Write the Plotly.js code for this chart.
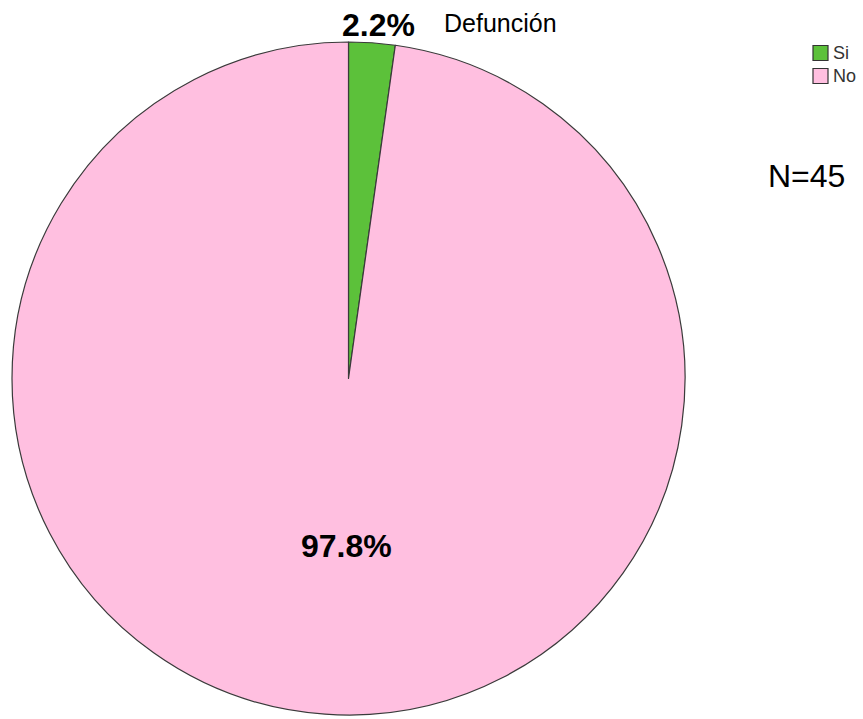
<!DOCTYPE html>
<html><head><meta charset="utf-8">
<script src="https://cdn.plot.ly/plotly-3.0.1.min.js"></script>
<style>html,body{margin:0;padding:0;background:#fff}#c{width:863px;height:719px}</style>
</head><body><div id="c"></div>
<script>
const categories = ["Si", "No"];
const counts = [1, 44];
const colors = ["#5cc13a", "#ffbfe0"];
const legendTitle = "Defunción";
const nLabel = "N=45";

const total = counts.reduce((a,b)=>a+b,0);
const pct = counts.map(v => (100*v/total).toFixed(1) + "%");

const W = 863, H = 719;
const trace = {
  type: "pie",
  labels: categories,
  values: counts,
  sort: false,
  direction: "clockwise",
  rotation: 0,
  marker: {colors: colors, line: {color: "#3a3a3a", width: 1.2}},
  textinfo: "none",
  hoverinfo: "label+percent",
  showlegend: false,
  domain: {x: [12/W, 685/W], y: [1-715/H, 1-42/H]}
};

function ann(text, px, py, size, extra) {
  return Object.assign({text: text, x: px/W, y: 1-py/H, xref: "paper", yref: "paper",
    xanchor: "center", yanchor: "middle", showarrow: false,
    font: {size: size, color: "#000"}}, extra || {});
}
const annotations = [
  ann("<b>" + pct[0] + "</b>", 378, 25, 32),
  ann("<b>" + pct[1] + "</b>", 346, 546, 32),
  ann(legendTitle, 500, 23, 25),
  ann(nLabel, 806, 176, 32)
];
const shapes = [];
categories.forEach((c, i) => {
  const yc = 53 + i*23;
  shapes.push({type: "rect", xref: "paper", yref: "paper",
    x0: 813/W, x1: 828/W, y0: 1-(yc+7.5)/H, y1: 1-(yc-7.5)/H,
    fillcolor: colors[i], line: {color: "#333", width: 1.2}});
  annotations.push(ann(c, 831, yc, 18, {xanchor: "left", font: {size: 18, color: "#333"}}));
});

const layout = {
  width: W, height: H,
  margin: {l:0, r:0, t:0, b:0},
  paper_bgcolor: "#fff",
  font: {family: "Liberation Sans, Arial, sans-serif", color: "#000"},
  showlegend: false,
  annotations: annotations,
  shapes: shapes
};
Plotly.newPlot("c", [trace], layout, {displayModeBar: false});
</script></body></html>
